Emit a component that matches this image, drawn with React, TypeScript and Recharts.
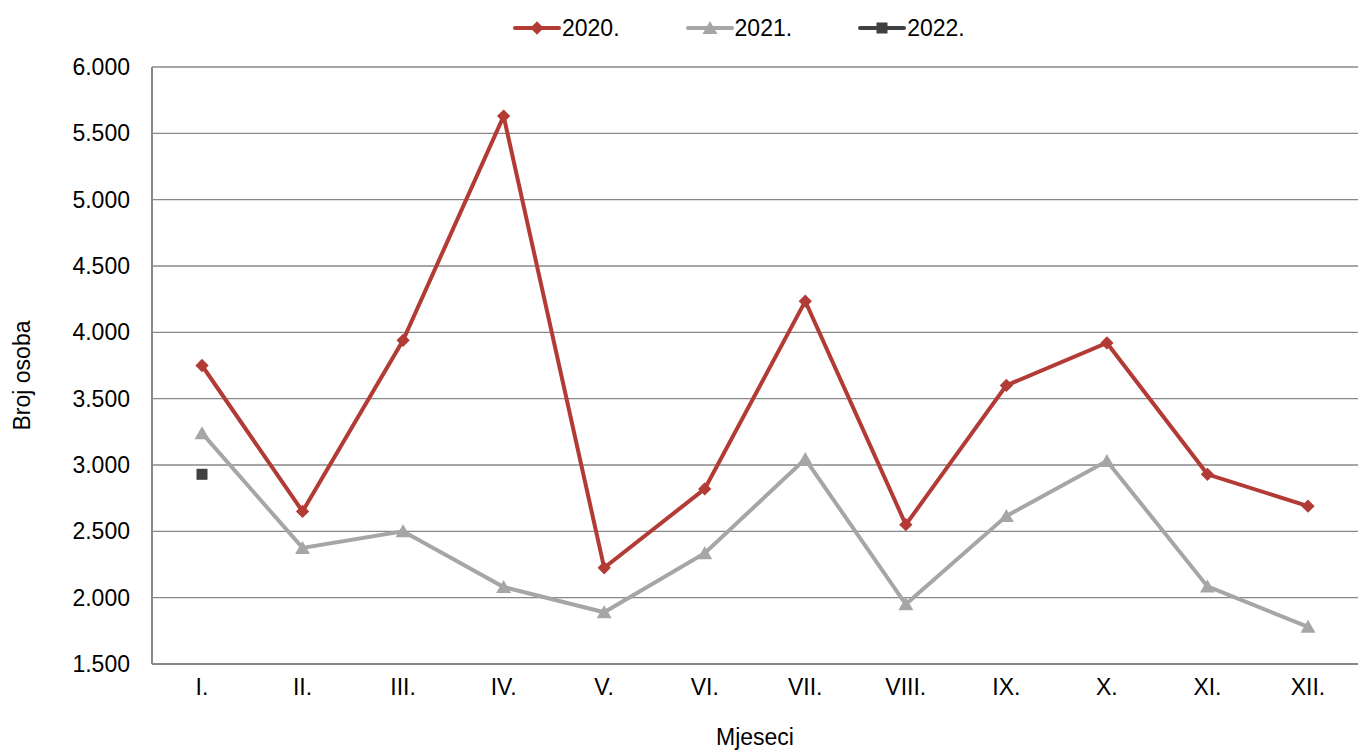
import { LineChart, Line, XAxis, YAxis, CartesianGrid } from 'recharts'

const months = ['I.', 'II.', 'III.', 'IV.', 'V.', 'VI.', 'VII.', 'VIII.', 'IX.', 'X.', 'XI.', 'XII.']
const y2020 = [3750, 2650, 3940, 5630, 2225, 2820, 4235, 2550, 3600, 3920, 2930, 2690]
const y2021 = [3240, 2375, 2500, 2080, 1890, 2335, 3045, 1950, 2615, 3030, 2085, 1780]
const y2022: (number | null)[] = [2930, null, null, null, null, null, null, null, null, null, null, null]
const yTicks = [1500, 2000, 2500, 3000, 3500, 4000, 4500, 5000, 5500, 6000]

const RED = '#b23b36'
const GREY = '#a6a6a6'
const DARK = '#404040'
const GRID = '#888888'
const FONT = '"Liberation Sans", Arial, sans-serif'
const FS = 23

const data = months.map((m, i) => ({
  month: m,
  '2020.': y2020[i],
  '2021.': y2021[i],
  '2022.': y2022[i],
}))

const fmt = (v: number) => v.toLocaleString('de-DE')

function Diamond({ cx, cy, fill }: any) {
  if (cx == null || cy == null) return null
  return <rect x={cx - 4.7} y={cy - 4.7} width={9.4} height={9.4} fill={fill} transform={`rotate(45 ${cx} ${cy})`} />
}

function Triangle({ cx, cy, fill }: any) {
  if (cx == null || cy == null) return null
  return <path d={`M${cx},${cy - 7} L${cx + 7.5},${cy + 6} L${cx - 7.5},${cy + 6} Z`} fill={fill} />
}

function Square({ cx, cy, fill }: any) {
  if (cx == null || cy == null) return null
  return <rect x={cx - 5.5} y={cy - 5.5} width={11} height={11} fill={fill} />
}

const legendItems = [
  { name: '2020.', color: RED, Marker: Diamond },
  { name: '2021.', color: GREY, Marker: Triangle },
  { name: '2022.', color: DARK, Marker: Square },
]

function LegendRow() {
  return (
    <div style={{ position: 'absolute', left: 513, top: 15, display: 'flex', gap: 66, fontFamily: FONT, fontSize: FS, lineHeight: '26px' }}>
      {legendItems.map(({ name, color, Marker }) => (
        <div key={name} style={{ display: 'flex', alignItems: 'center' }}>
          <svg width={48} height={26}>
            <line x1={2} y1={13} x2={46} y2={13} stroke={color} strokeWidth={4} strokeLinecap="round" />
            <Marker cx={24} cy={13} fill={color} />
          </svg>
          <span style={{ marginLeft: 1 }}>{name}</span>
        </div>
      ))}
    </div>
  )
}

function YLabel({ viewBox }: any) {
  const cy = viewBox.y + viewBox.height / 2 + 10
  return (
    <text x={22} y={cy} transform={`rotate(-90 22 ${cy})`} textAnchor="middle" dominantBaseline="central"
      fontFamily={FONT} fontSize={FS} fill="#000">Broj osoba</text>
  )
}

export default function App() {
  return (
    <div style={{ position: 'absolute', left: 0, top: 0, width: 1358, height: 751, background: '#fff' }}>
      <LegendRow />
      <LineChart width={1358} height={751} data={data} margin={{ top: 67, right: 0, bottom: 0, left: 0 }}>
        <CartesianGrid vertical={false} stroke={GRID} strokeWidth={1.3} />
        <XAxis
          dataKey="month"
          height={87}
          padding={{ left: 50, right: 50 }}
          tickSize={0}
          tickMargin={15}
          axisLine={{ stroke: GRID, strokeWidth: 2 }}
          tick={{ fill: '#000', fontSize: FS, fontFamily: FONT }}
          label={{ value: 'Mjeseci', position: 'insideBottom', offset: 6, fill: '#000', fontSize: FS, fontFamily: FONT }}
        />
        <YAxis
          width={152}
          domain={[1500, 6000]}
          ticks={yTicks}
          tickFormatter={fmt}
          tickSize={0}
          tickMargin={22}
          axisLine={{ stroke: GRID, strokeWidth: 2 }}
          tick={{ fill: '#000', fontSize: FS, fontFamily: FONT }}
          label={<YLabel />}
        />
        <Line dataKey="2020." stroke={RED} strokeWidth={4} dot={<Diamond fill={RED} />} activeDot={false} isAnimationActive={false} />
        <Line dataKey="2021." stroke={GREY} strokeWidth={4} dot={<Triangle fill={GREY} />} activeDot={false} isAnimationActive={false} />
        <Line dataKey="2022." stroke={DARK} strokeWidth={4} dot={<Square fill={DARK} />} activeDot={false} isAnimationActive={false} />
      </LineChart>
    </div>
  )
}
